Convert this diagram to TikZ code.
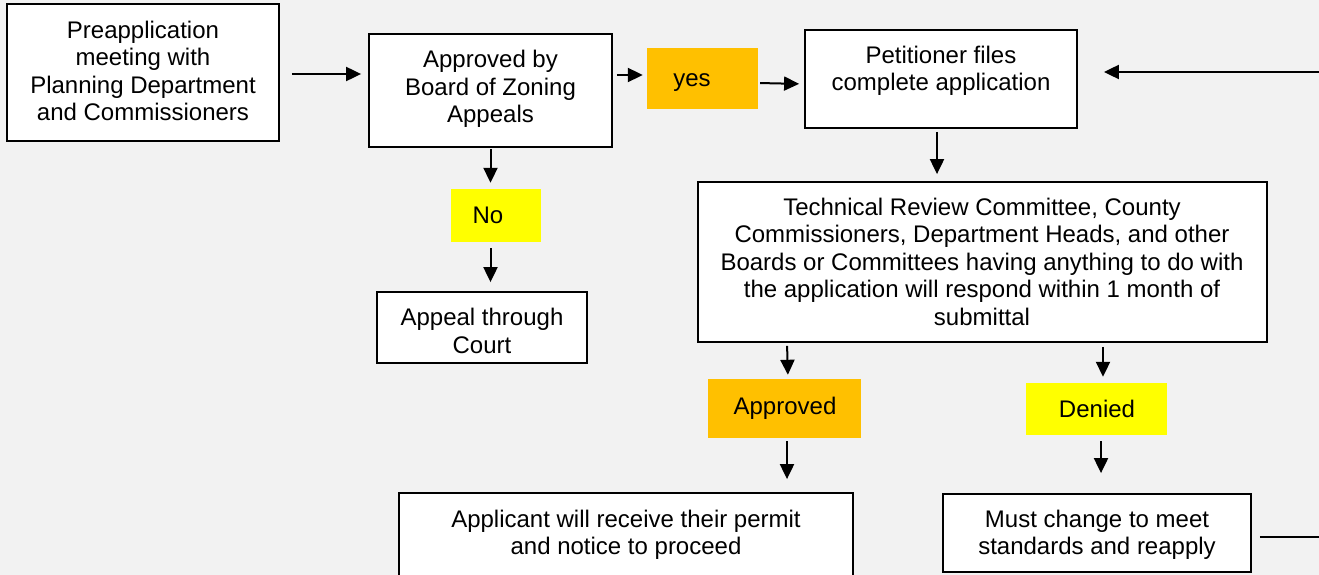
\documentclass[tikz,border=0pt]{standalone}
\usepackage{fontspec}
\setmainfont{Liberation Sans}
\usetikzlibrary{arrows.meta}
\definecolor{bg}{HTML}{F2F2F2}
\definecolor{orng}{HTML}{FFC000}
\definecolor{yel}{HTML}{FFFF00}
\begin{document}
\begin{tikzpicture}[x=1pt,y=-1pt,
  box/.style={draw=black,line width=1.8pt,fill=white,inner sep=0pt},
  tag/.style={inner sep=0pt},
  txt/.style={align=center,inner sep=0pt,font=\fontsize{24}{27.5}\selectfont},
  arr/.style={line width=2pt,-{Triangle[length=15pt,width=14pt]}},
  ln/.style={line width=2pt}]
\useasboundingbox (0,0) rectangle (1319,575);
\fill[bg] (0,0) rectangle (1319,575);
\begin{scope}
\clip (0,0) rectangle (1319,575);
% boxes
\node[box,minimum width=272pt,minimum height=137pt] (pre) at (143,72.5) {};
\node[txt] at (143,71) {Preapplication\\meeting with\\Planning Department\\and Commissioners};
\node[box,minimum width=243pt,minimum height=113pt] (bza) at (490.5,90.5) {};
\node[txt] at (490.5,89) {Approved by\\Board of Zoning\\Appeals};
\node[tag,fill=orng,minimum width=111pt,minimum height=61pt] (yes) at (702.5,78.5) {};
\node[txt] at (692,83) {yes};
\node[box,minimum width=272pt,minimum height=98pt] (pet) at (941,79) {};
\node[txt] at (941,71) {Petitioner files\\complete application};
\node[box,minimum width=569pt,minimum height=160pt] (trc) at (982.5,262) {};
\node[txt] at (982,261.5) {Technical Review Committee, County\\Commissioners, Department Heads, and other\\Boards or Committees having anything to do with\\the application will respond within 1 month of\\submittal};
\node[tag,fill=yel,minimum width=90pt,minimum height=53pt] (no) at (496,215.5) {};
\node[txt] at (488,215) {No};
\node[box,minimum width=210pt,minimum height=71pt] (app) at (482,327.5) {};
\node[txt] at (482,331) {Appeal through\\Court};
\node[tag,fill=orng,minimum width=153pt,minimum height=59pt] (apd) at (784.5,408.5) {};
\node[txt] at (785,408) {Approved};
\node[tag,fill=yel,minimum width=141pt,minimum height=52pt] (den) at (1096.5,409) {};
\node[txt] at (1097,409) {Denied};
\node[box,minimum width=454pt,minimum height=88pt] (per) at (626,537) {};
\node[txt] at (626,535) {Applicant will receive their permit\\and notice to proceed};
\node[box,minimum width=308pt,minimum height=78pt] (must) at (1097,533) {};
\node[txt] at (1097,535) {Must change to meet\\standards and reapply};
% free ends
\coordinate (rtop) at (1319,72);
\coordinate (rbot) at (1319,537);
% connectors
\draw[arr,shorten <=12pt,shorten >=7pt] (pre.east |- 0,74) -- (bza.west |- 0,74);
\draw[arr,shorten <=4pt,shorten >=4pt] (bza.east |- 0,75) -- (yes.west |- 0,75);
\draw[arr,shorten <=2pt,shorten >=5pt] (yes.east |- 0,83) -- (pet.west |- 0,84);
\draw[arr,shorten >=26pt] (rtop) -- (pet.east |- rtop);
\draw[arr,shorten <=1pt,shorten >=6pt] (bza.south) -- (bza.south |- no.north);
\draw[arr,shorten <=6pt,shorten >=9pt] (bza.south |- no.south) -- (bza.south |- app.north);
\draw[arr,shorten <=3pt,shorten >=7pt] (pet.south -| 937,0) -- (trc.north -| 937,0);
\draw[arr,shorten <=3pt,shorten >=4pt] (trc.south -| 787,0) -- (apd.north -| 788,0);
\draw[arr,shorten <=4pt,shorten >=6pt] (trc.south -| 1103,0) -- (den.north -| 1103,0);
\draw[arr,shorten <=3pt,shorten >=13pt] (apd.south -| 787,0) -- (per.north -| 787,0);
\draw[arr,shorten <=6pt,shorten >=20pt] (den.south -| 1101,0) -- (must.north -| 1101,0);
\draw[ln,shorten <=8pt] (must.east |- rbot) -- (rbot);
\end{scope}
\end{tikzpicture}
\end{document}
